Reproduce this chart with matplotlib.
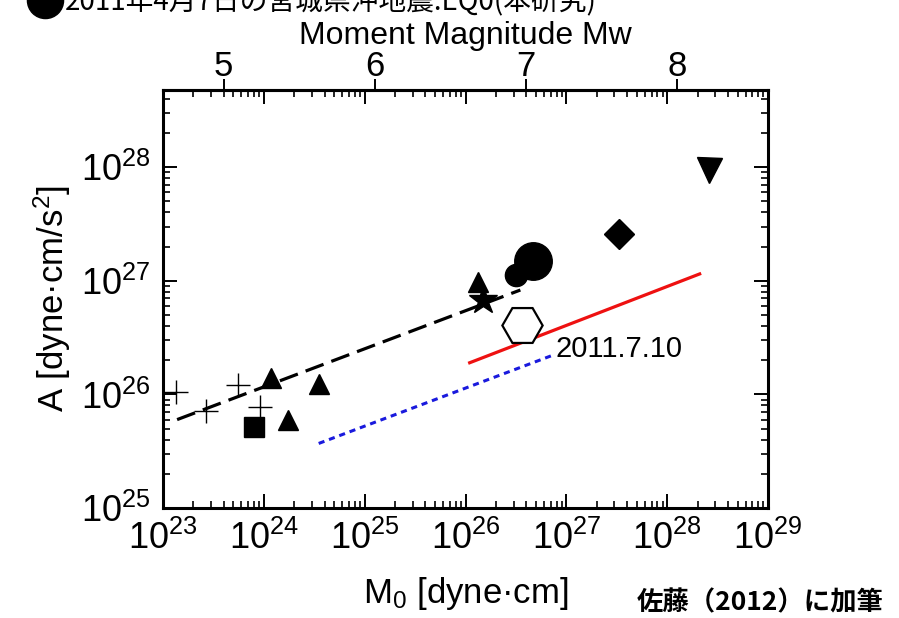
import numpy as np
import matplotlib
matplotlib.use('Agg')
import matplotlib.pyplot as plt
from matplotlib.ticker import LogLocator, NullFormatter, NullLocator, FixedLocator, FuncFormatter

plt.rcParams['font.family'] = ['Liberation Sans', 'DejaVu Sans']
plt.rcParams['mathtext.fontset'] = 'custom'
plt.rcParams['mathtext.rm'] = 'Liberation Sans'
plt.rcParams['mathtext.it'] = 'Liberation Sans'

# ---- data (M0 [dyne*cm], A [dyne*cm/s^2]) ----
cross_m0 = [1.35e23, 2.7e23, 5.5e23, 9.1e23]
cross_a = [1.05e26, 7.2e25, 1.2e26, 7.8e25]

square_m0 = [7.9e23]
square_a = [5.2e25]

tri_m0 = [1.17e24, 1.74e24, 3.5e24, 1.32e26]
tri_a = [1.4e26, 5.9e25, 1.23e26, 9.8e26]

star_m0 = [1.5e26]
star_a = [6.8e26]

eq_small_m0 = [3.2e26]
eq_small_a = [1.12e27]
eq0_m0 = [4.7e26]
eq0_a = [1.5e27]

hex_m0 = [3.6e26]
hex_a = [4.1e26]

diamond_m0 = [3.3e27]
diamond_a = [2.6e27]

dtri_m0 = [2.6e28]
dtri_a = [9.5e27]

# scaling lines
black_m0 = [1.38e23, 3.5e26]
black_a = [6.0e25, 8.3e26]
red_m0 = [1.1e26, 2.1e28]
red_a = [1.9e26, 1.15e27]
blue_m0 = [3.5e24, 7.6e26]
blue_a = [3.7e25, 2.24e26]

mw_ticks = [5, 6, 7, 8]

fig = plt.figure(figsize=(8.99, 6.18), dpi=100)
ax = fig.add_axes([163 / 899, 1 - 508 / 618, 605 / 899, 418 / 618])
ax.set_xscale('log')
ax.set_yscale('log')
ax.set_xlim(1e23, 1e29)
ax.set_ylim(1e25, 10 ** 28.68)

# lines
ax.plot(black_m0, black_a, color='black', lw=2.3, dashes=(6, 2.6))
ax.plot(red_m0, red_a, color='#ee1111', lw=2.3)
ax.plot(blue_m0, blue_a, color='#1a1add', lw=2.2, dashes=(2, 1.6))

# symbols
ax.plot(cross_m0, cross_a, '+', color='black', ms=17, mew=1.0, ls='none')
ax.plot(square_m0, square_a, 's', color='black', ms=15, ls='none')
ax.plot(tri_m0, tri_a, '^', color='black', ms=14, ls='none')
ax.plot(star_m0, star_a, '*', color='black', ms=21, ls='none')
ax.plot(eq_small_m0, eq_small_a, 'o', color='black', ms=16, ls='none')
ax.plot(eq0_m0, eq0_a, 'o', color='black', ms=27, ls='none')
ax.plot(hex_m0, hex_a, 'H', mfc='white', mec='black', mew=1.6, ms=29, ls='none')
ax.plot(diamond_m0, diamond_a, 'D', color='black', ms=15, ls='none')
ax.plot(dtri_m0, dtri_a, 'v', color='black', ms=18, ls='none')

ax.text(7.8e26, 2.5e26, '2011.7.10', fontsize=21, va='center', ha='left')

# axes styling
for s in ax.spines.values():
    s.set_linewidth(2.2)
ax.xaxis.set_major_locator(LogLocator(base=10, numticks=10))
ax.yaxis.set_major_locator(LogLocator(base=10, numticks=10))
ax.xaxis.set_minor_locator(LogLocator(base=10, subs=np.arange(2, 10), numticks=20))
ax.yaxis.set_minor_locator(LogLocator(base=10, subs=np.arange(2, 10), numticks=20))
ax.xaxis.set_minor_formatter(NullFormatter())
ax.yaxis.set_minor_formatter(NullFormatter())
ax.tick_params(which='both', direction='in', top=True, right=True)
ax.tick_params(which='major', length=10, width=1.4, labelsize=26, pad=9)
ax.tick_params(which='minor', length=5, width=1.2)

ax.set_xlabel('M$_0$ [dyne·cm]', fontsize=25, labelpad=13)
ax.set_ylabel('A [dyne·cm/s$^2$]', fontsize=25, labelpad=6)

# top axis: moment magnitude
def m0_to_mw(m0):
    return (np.log10(m0) - 16.1) / 1.5

def mw_to_m0(mw):
    return 10 ** (1.5 * np.asarray(mw) + 16.1)

sec = ax.secondary_xaxis('top', functions=(m0_to_mw, mw_to_m0))
sec.xaxis.set_major_locator(FixedLocator(mw_ticks))
sec.xaxis.set_major_formatter(FuncFormatter(lambda v, p: '%d' % round(v)))
sec.xaxis.set_minor_locator(NullLocator())
sec.tick_params(direction='out', length=8, width=1.4, labelsize=25, pad=-3)
sec.spines['top'].set_linewidth(2.2)
sec.set_xlabel('Moment Magnitude Mw', fontsize=23, labelpad=4)

# header (cut off at top) and credit
ax.plot([45 / 899], [1 - 0 / 618], 'o', color='black', ms=26,
        transform=fig.transFigure, clip_on=False)
fig.text(65 / 899, 1 - 10 / 618, '2011年4月7日の宮城県沖地震:EQ0(本研究)',
         fontsize=20, family=['Noto Sans CJK JP', 'DejaVu Sans'], va='baseline', ha='left')
fig.text(884 / 899, 1 - 603 / 618, '佐藤（2012）に加筆', fontsize=19, weight='bold',
         family=['Noto Sans CJK JP', 'DejaVu Sans'], va='center', ha='right')

fig.savefig('out.png', dpi=100)
